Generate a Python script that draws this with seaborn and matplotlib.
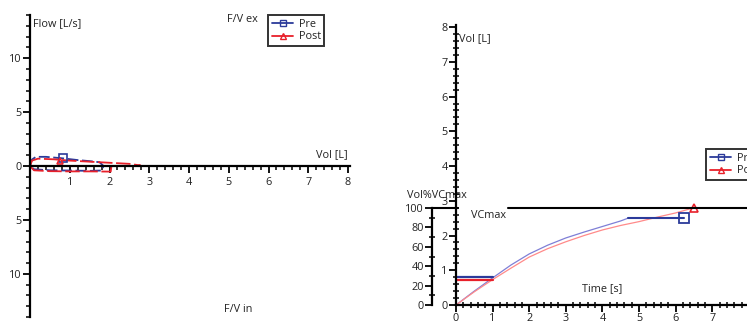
import numpy as np
import pandas as pd
import matplotlib
matplotlib.use("Agg")
import matplotlib.pyplot as plt
import matplotlib.transforms as mtransforms
from matplotlib.ticker import MultipleLocator, FuncFormatter
from matplotlib.lines import Line2D
import seaborn as sns

sns.set_theme(style="white")
plt.rcParams["font.family"] = ["Open Sans", "DejaVu Sans"]

# ---- flow / volume loops (left chart) ----
pre_fv_vol = [0, 0.05, 0.15, 0.4, 0.8, 1.2, 1.5, 1.75, 1.85, 1.8, 1.5, 1.0, 0.5, 0.1, 0]
pre_fv_flow = [0, 0.6, 0.85, 0.85, 0.72, 0.55, 0.45, 0.35, 0.0, -0.42, -0.45, -0.42, -0.4, -0.3, 0]
post_fv_vol = [0, 0.05, 0.2, 0.6, 1.0, 1.5, 2.0, 2.5, 2.78, 2.7, 2.05, 2.03, 1.5, 1.0, 0.5, 0.1, 0]
post_fv_flow = [0, 0.5, 0.68, 0.62, 0.5, 0.4, 0.3, 0.2, 0.05, 0.0, 0.0, -0.52, -0.5, -0.5, -0.48, -0.4, 0]
pre_fv_mark = (0.83, 0.7)
post_fv_mark = (0.76, 0.5)

# ---- volume / time (right chart) ----
pre_time = [0, 0.5, 1, 1.5, 2, 2.5, 3, 3.5, 4, 4.5, 4.7]
pre_vol = [0, 0.4, 0.78, 1.15, 1.47, 1.72, 1.93, 2.1, 2.26, 2.42, 2.5]
pre_plateau_time = [4.7, 6.24]
pre_plateau_vol = [2.5, 2.5]
post_time = [0, 0.5, 1, 1.5, 2, 2.5, 3, 3.5, 4, 4.5, 5, 5.5, 6, 6.5]
post_vol = [0, 0.38, 0.73, 1.06, 1.38, 1.62, 1.82, 2.0, 2.16, 2.29, 2.4, 2.53, 2.65, 2.8]
fev1_time = [0, 1]
pre_fev1 = 0.82
post_fev1 = 0.73
vcmax = 100

blue = "#2b3a9a"
red = "#e8202a"
txt = "#222222"
fs = 7.8

W, H = 747, 323
fig = plt.figure(figsize=(W / 100, H / 100), dpi=100)


def px_axes(x0, x1, ytop, ybot):
    return fig.add_axes([x0 / W, (H - ybot) / H, (x1 - x0) / W, (ybot - ytop) / H])


def style(ax):
    ax.set_facecolor("none")
    for s in ["top", "right"]:
        ax.spines[s].set_visible(False)
    for s in ["left", "bottom"]:
        ax.spines[s].set_color("black")
        ax.spines[s].set_linewidth(1.6)
    ax.tick_params(which="both", bottom=True, left=True, top=False, right=False)
    ax.tick_params(which="major", length=5, width=1.3, color="black",
                   labelsize=fs, labelcolor=txt, pad=1, direction="out")
    ax.tick_params(which="minor", length=4, width=1.1, color="black", direction="inout")
    ax.set_xlabel("")
    ax.set_ylabel("")


def add_legend(x, y, handles):
    leg = fig.legend(handles, ["Pre", "Post"], loc="upper left",
                     bbox_to_anchor=(x / W, 1 - y / H), fontsize=fs,
                     frameon=True, fancybox=False, handlelength=2.0,
                     handletextpad=0.5, borderpad=0.3, labelspacing=0.15)
    leg.get_frame().set_edgecolor("black")
    leg.get_frame().set_linewidth(1.4)
    for t in leg.get_texts():
        t.set_color(txt)
    return leg


# ---------------- left chart ----------------
ax1 = px_axes(30, 350, 15, 317)
df_pre = pd.DataFrame({"vol": pre_fv_vol, "flow": pre_fv_flow})
df_post = pd.DataFrame({"vol": post_fv_vol, "flow": post_fv_flow})
sns.lineplot(data=df_pre, x="vol", y="flow", sort=False, estimator=None,
             color=blue, lw=1.3, ax=ax1)
sns.lineplot(data=df_post, x="vol", y="flow", sort=False, estimator=None,
             color=red, lw=1.3, ax=ax1)
ax1.lines[0].set_dashes([6, 2])
ax1.lines[1].set_dashes([8, 2])
ax1.plot(*pre_fv_mark, marker="s", mfc="none", mec=blue, ms=6, mew=1.2)
ax1.plot(*post_fv_mark, marker="^", mfc="none", mec=red, ms=5, mew=1.2)
ax1.set_xlim(0, 8.05)
ax1.set_ylim(-14, 14)
style(ax1)
ax1.spines["bottom"].set_position(("data", 0))
ax1.xaxis.set_major_locator(MultipleLocator(1))
ax1.xaxis.set_minor_locator(MultipleLocator(0.2))
ax1.yaxis.set_major_locator(MultipleLocator(5))
ax1.yaxis.set_minor_locator(MultipleLocator(1))
ax1.xaxis.set_major_formatter(FuncFormatter(lambda v, p: "" if v == 0 else f"{v:g}"))
ax1.yaxis.set_major_formatter(FuncFormatter(lambda v, p: f"{abs(v):g}"))
ax1.tick_params(axis="x", which="major", pad=3)
ax1.tick_params(axis="x", which="minor", direction="out", length=3)
ax1.tick_params(axis="y", which="minor", direction="out", length=3)
ax1.text(0.01, 0.99, "Flow [L/s]", transform=ax1.transAxes, fontsize=fs, color=txt, va="top")
ax1.text(7.98, 0.5, "Vol [L]", fontsize=fs, color=txt, ha="right", va="bottom")
fig.text(227 / W, 1 - 19 / H, "F/V ex", fontsize=fs, color=txt, va="center")
fig.text(224 / W, 1 - 310 / H, "F/V in", fontsize=fs, color=txt, va="center")

handles = [Line2D([], [], color=blue, marker="s", mfc="none", ms=5, lw=1.3),
           Line2D([], [], color=red, marker="^", mfc="none", ms=5, lw=1.3)]
add_legend(263, 10, handles)

# ---------------- right chart ----------------
axp = px_axes(432, 747, 208, 305)
axp.set_ylim(0, 100)
axp.set_xlim(0, 1)
style(axp)
axp.spines["bottom"].set_visible(False)
axp.set_xticks([])
axp.yaxis.set_major_locator(MultipleLocator(20))
axp.yaxis.set_minor_locator(MultipleLocator(10))
axp.text(-0.08, 107, "Vol%VCmax", fontsize=fs, color=txt, va="bottom")
axp.text(471 / W, 1 - 216 / H, "VCmax", fontsize=fs, color=txt, va="center",
         transform=fig.transFigure)

ax2 = px_axes(456, 747, 25, 305)
df_pre_vt = pd.DataFrame({"t": pre_time, "v": pre_vol})
df_post_vt = pd.DataFrame({"t": post_time, "v": post_vol})
sns.lineplot(data=df_pre_vt, x="t", y="v", color="#7f7fd6", lw=0.9, ax=ax2)
sns.lineplot(data=df_post_vt, x="t", y="v", color="#ff8a8a", lw=0.9, ax=ax2)
ax2.plot(pre_plateau_time, pre_plateau_vol, color=blue, lw=1.5)
ax2.plot(fev1_time, [pre_fev1] * 2, color=blue, lw=1.6)
ax2.plot(fev1_time, [post_fev1] * 2, color=red, lw=1.6)
ax2.plot(pre_plateau_time[-1], pre_plateau_vol[-1], marker="s", mfc="none", mec=blue,
         ms=7, mew=1.3)
ax2.plot(post_time[-1], post_vol[-1], marker="^", mfc="none", mec=red, ms=6, mew=1.2,
         clip_on=False)
ax2.set_xlim(0, 7.95)
ax2.set_ylim(0, 8.06)
style(ax2)
ax2.xaxis.set_major_locator(MultipleLocator(1))
ax2.xaxis.set_minor_locator(MultipleLocator(0.2))
ax2.yaxis.set_major_locator(MultipleLocator(1))
ax2.yaxis.set_minor_locator(MultipleLocator(0.2))
ax2.text(0.01, 0.97, "Vol [L]", transform=ax2.transAxes, fontsize=fs, color=txt, va="top")
ax2.text(4.0, 0.3, "Time [s]", fontsize=fs, color=txt, ha="center", va="bottom")

# VCmax reference line (100 % of VCmax), broken around the y axis
vc_tr = mtransforms.blended_transform_factory(fig.transFigure, axp.transData)
for x0, x1 in [(432, 458), (508, 747)]:
    fig.add_artist(Line2D([x0 / W, x1 / W], [vcmax, vcmax], transform=vc_tr,
                          color="black", lw=1.5, zorder=6))

add_legend(701, 144, handles)

fig.savefig("out.png", dpi=100)
